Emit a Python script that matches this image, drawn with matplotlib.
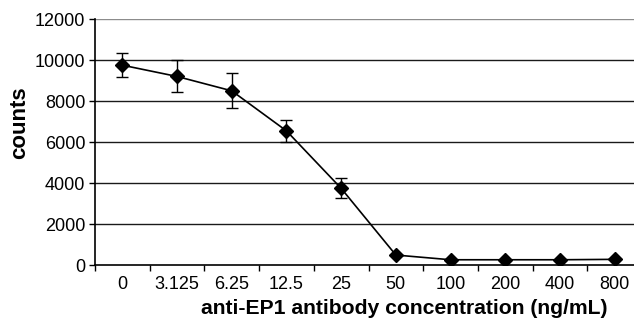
import matplotlib
matplotlib.use("Agg")
import matplotlib.pyplot as plt
import numpy as np

# data
concentrations = ["0", "3.125", "6.25", "12.5", "25", "50", "100", "200", "400", "800"]
counts = [9750, 9200, 8500, 6550, 3750, 500, 270, 270, 270, 290]
errors = [600, 780, 850, 550, 490, 0, 0, 0, 0, 0]
y_ticks = [0, 2000, 4000, 6000, 8000, 10000, 12000]

plt.rcParams["font.family"] = ["Liberation Sans", "DejaVu Sans"]

W, H = 634, 324
fig = plt.figure(figsize=(W / 100, H / 100), dpi=100)

# plot area runs a bit past the right edge, like the cropped original
left, right, bottom, top = 95, 642, 265.3, 19
ax = fig.add_axes([left / W, 1 - bottom / H, (right - left) / W, (bottom - top) / H])

x = np.arange(len(concentrations))

for yv in y_ticks[1:]:
    ax.axhline(yv, color="0.1" if yv < 12000 else "0.55", lw=1.0, zorder=1)

ax.errorbar(
    x, counts,
    yerr=[e if e > 0 else np.nan for e in errors],
    color="black", lw=1.2, marker="D", markersize=7,
    ecolor="black", elinewidth=1.0, capsize=4, capthick=1.0,
    zorder=3,
)

ax.set_xlim(-0.5, len(concentrations) - 0.5)
ax.set_ylim(0, 12000)

ax.set_yticks(y_ticks)
ax.set_yticklabels([str(v) for v in y_ticks], fontsize=13)
ax.set_xticks(x)
ax.set_xticklabels(concentrations, fontsize=13)
ax.tick_params(axis="x", length=0, pad=8)
ax.tick_params(axis="y", length=4, width=1.0, direction="out", pad=3)

# category-boundary ticks on the x axis
ax.set_xticks(np.arange(len(concentrations) + 1) - 0.5, minor=True)
ax.tick_params(axis="x", which="minor", length=4, width=1.0, direction="out")

for side in ["top", "right"]:
    ax.spines[side].set_visible(False)
for side in ["left", "bottom"]:
    ax.spines[side].set_linewidth(1.2)
    ax.spines[side].set_zorder(4)

fig.text(20 / W, 1 - 123 / H, "counts", rotation=90, ha="center", va="center",
         fontsize=16, fontweight="bold")
fig.text(404 / W, 1 - 309 / H, "anti-EP1 antibody concentration (ng/mL)",
         ha="center", va="center", fontsize=15.2, fontweight="bold")

fig.savefig("out.png", dpi=100)
